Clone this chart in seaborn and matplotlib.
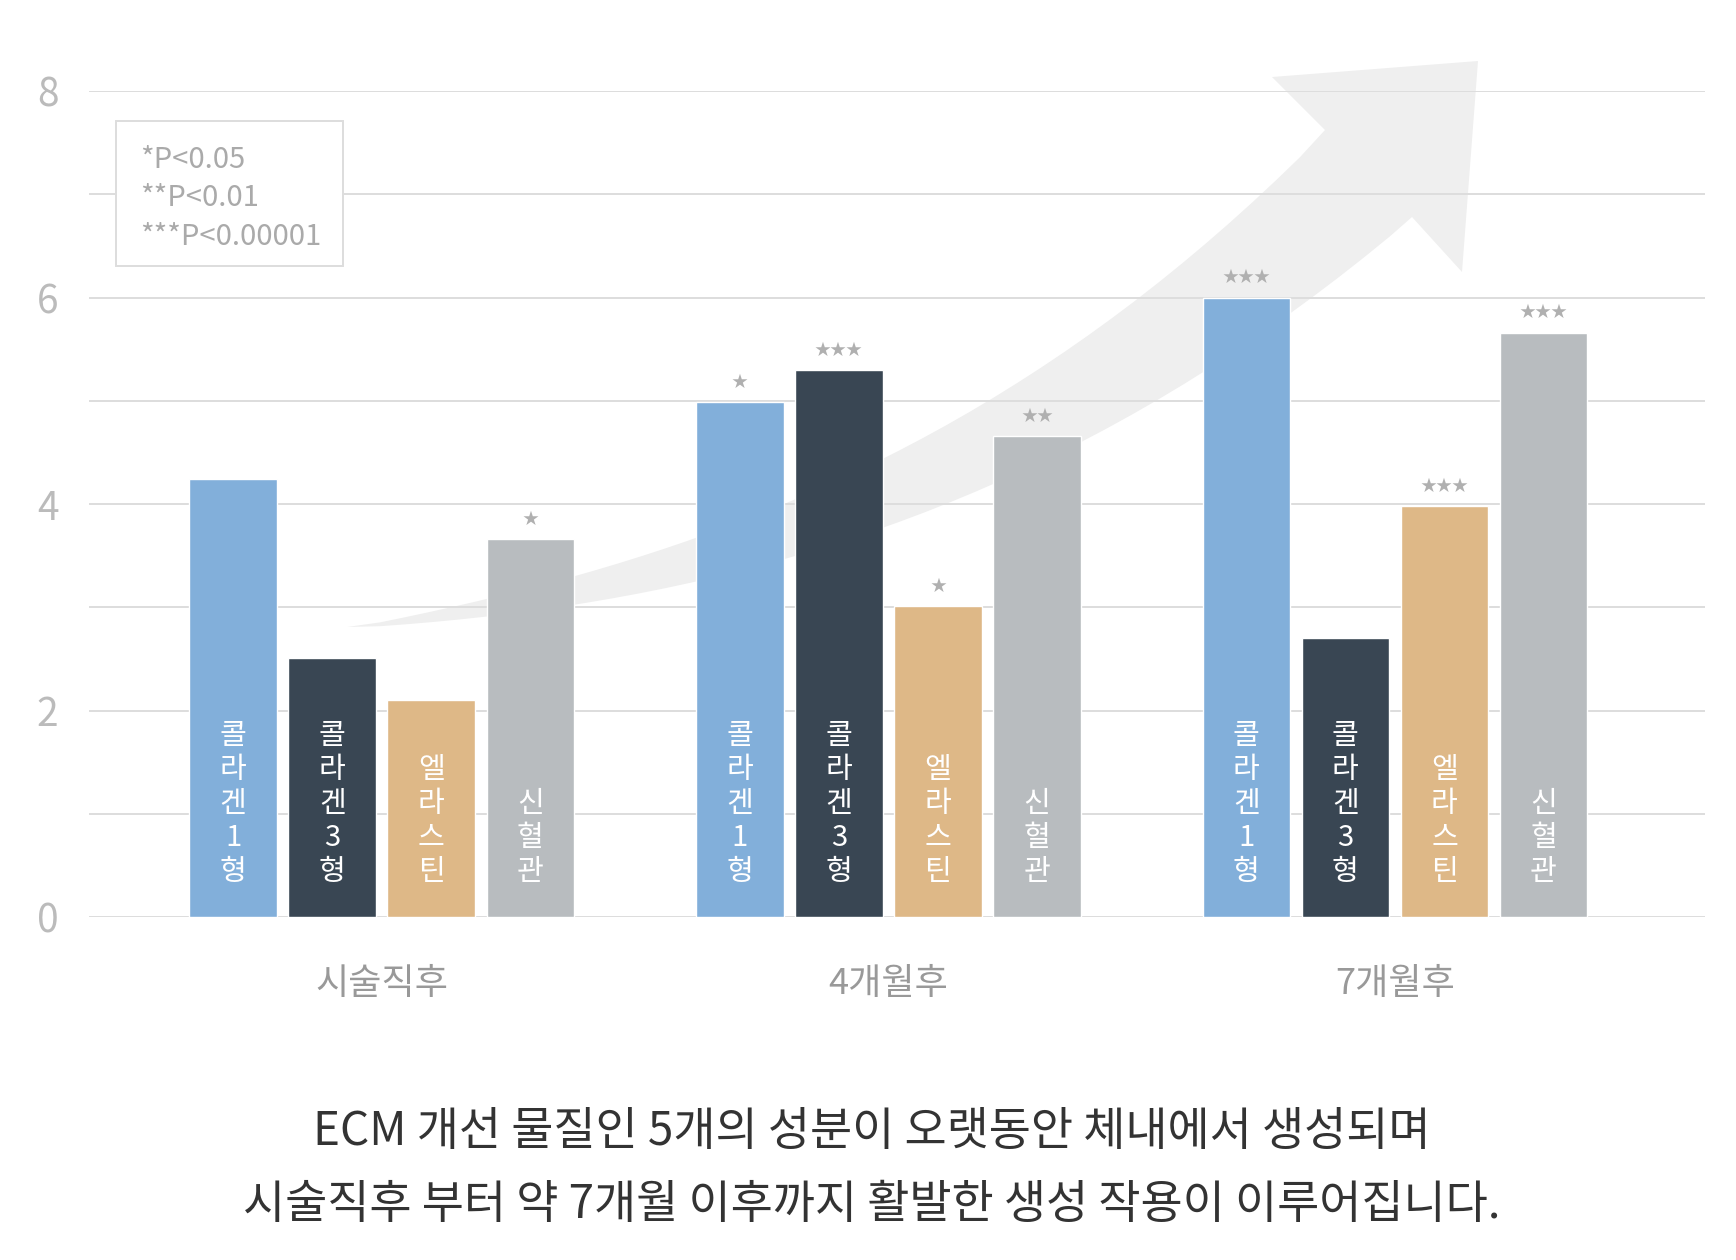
import matplotlib
matplotlib.use("Agg")
import matplotlib.pyplot as plt
from matplotlib.patches import Polygon, Rectangle
from matplotlib.ticker import MultipleLocator

import numpy as np
import pandas as pd
import seaborn as sns

# data
groups = ["시술직후", "4개월후", "7개월후"]
components = ["콜라겐1형", "콜라겐3형", "엘라스틴", "신혈관"]
collagen1 = [4.24, 4.99, 6.00]
collagen3 = [2.51, 5.30, 2.70]
elastin = [2.10, 3.01, 3.98]
vessel = [3.66, 4.66, 5.66]

# significance marks above each bar (same order as groups)
collagen1_sig = ["", "*", "***"]
collagen3_sig = ["", "***", ""]
elastin_sig = ["", "*", "***"]
vessel_sig = ["*", "**", "***"]

legend_lines = ["*P<0.05", "**P<0.01", "***P<0.00001"]
caption_lines = [
    "ECM 개선 물질인 5개의 성분이 오랫동안 체내에서 생성되며",
    "시술직후 부터 약 7개월 이후까지 활발한 생성 작용이 이루어집니다.",
]

colors = ["#82AFDA", "#394653", "#DEB887", "#B8BCBF"]

sns.set_theme(style="white")
plt.rcParams["font.family"] = ["Noto Sans CJK KR", "DejaVu Sans"]

values = [collagen1, collagen3, elastin, vessel]
sigs = [collagen1_sig, collagen3_sig, elastin_sig, vessel_sig]

rows = []
for comp, vals in zip(components, values):
    for g, v in zip(groups, vals):
        rows.append({"시점": g, "성분": comp, "값": v})
df = pd.DataFrame(rows)

W, H = 1736, 1260
fig = plt.figure(figsize=(W / 100, H / 100), dpi=100)
ax = fig.add_axes([89 / W, 1 - 917 / H, (1705 - 89) / W, (917 - 91) / H])

# soft background arrow (decoration only, traced in figure pixels, edges smoothed)
tail = (347, 627)
up_x = [347, 450, 564, 691, 819, 979, 1070, 1138, 1220, 1280, 1325]
up_y = [627, 609, 582, 540, 485, 402, 353, 300, 232, 177, 130]
lo_x = [347, 450, 596, 691, 819, 947, 1080, 1200, 1290, 1412]
lo_y = [627, 621, 605, 582, 545, 503, 443, 377, 313, 217]
up_fit = np.polyfit(up_x, up_y, 3)
lo_fit = np.polyfit(lo_x, lo_y, 3)
ux = np.linspace(380, 1300, 40)
lx = np.linspace(1390, 380, 40)
upper = [tail] + list(zip(ux, np.polyval(up_fit, ux))) + [(1325, 130)]
head = [(1272, 77), (1478, 61), (1462, 272), (1412, 217)]
lower = list(zip(lx, np.polyval(lo_fit, lx)))
arrow_pts = [(x / W, 1 - y / H) for x, y in upper + head + lower]
ax.add_patch(Polygon(arrow_pts, closed=True, transform=fig.transFigure,
                     facecolor="#EFEFEF", edgecolor="none", zorder=0.2, clip_on=False))

sns.barplot(data=df, x="시점", y="값", hue="성분", palette=colors,
            width=0.782, gap=0.115, saturation=1, legend=False, ax=ax)

for cont, comp, marks in zip(ax.containers, components, sigs):
    label = "\n".join(list(comp))
    for bar, m in zip(cont, marks):
        cx = bar.get_x() + bar.get_width() / 2
        h = bar.get_height()
        ax.text(cx, 0.29, label, ha="center", va="bottom", multialignment="center",
                color="white", fontsize=21, linespacing=1.17, zorder=4)
        if m:
            ax.text(cx, h + 0.19, "★" * len(m), ha="center", va="center",
                    color="#B0B0B0", fontsize=11.5, zorder=4)

ax.set_xlim(-0.578, 2.612)
ax.set_ylim(0, 8)
ax.yaxis.set_major_locator(MultipleLocator(2))
ax.yaxis.set_minor_locator(MultipleLocator(1))
ax.set_axisbelow(True)
ax.yaxis.grid(True, which="both", color="#DDDDDD", linewidth=1.4)
ax.xaxis.grid(False)
for s in ax.spines.values():
    s.set_visible(False)
ax.set_xlabel("")
ax.set_ylabel("")
ax.tick_params(axis="y", which="both", length=0, pad=22, labelsize=28, labelcolor="#BBBBBB")
ax.tick_params(axis="x", length=0, pad=35, labelsize=26, labelcolor="#999999")
for lab in ax.get_yticklabels() + ax.get_xticklabels():
    lab.set_fontweight("light")

# significance legend box
ax.add_patch(Rectangle((0.0167, 0.7881), 0.1405, 0.1756, transform=ax.transAxes,
                       facecolor="white", edgecolor="#DDDDDD", linewidth=1.4, zorder=4))
ax.text(0.0316, 0.935, "\n".join(legend_lines), transform=ax.transAxes,
        ha="left", va="top", fontsize=21, color="#AAAAAA", linespacing=1.38,
        fontweight="light", zorder=5)

fig.text(0.502, 1 - 1132 / H, caption_lines[0], ha="center", va="center",
         fontsize=33, color="#333333")
fig.text(0.502, 1 - 1205 / H, caption_lines[1], ha="center", va="center",
         fontsize=33, color="#333333")

fig.savefig("out.png", dpi=100, facecolor="white")
plt.close(fig)
